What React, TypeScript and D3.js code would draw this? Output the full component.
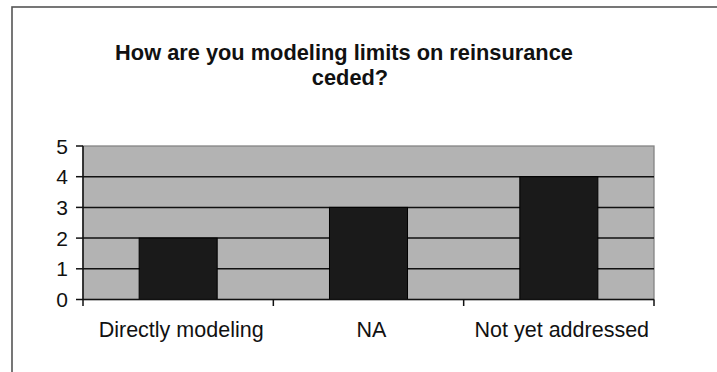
import React from "react";
import * as d3 from "d3";

const categories = ["Directly modeling", "NA", "Not yet addressed"];
const counts = [2, 3, 4];
const yTicks = [0, 1, 2, 3, 4, 5];
const titleLines = ["How are you modeling limits on reinsurance", "ceded?"];

const W = 717;
const H = 372;
const plot = { left: 83, right: 654, top: 146, bottom: 299.5 };
const font = "Arial, 'Liberation Sans', Helvetica, sans-serif";

export default function App() {
  const x = d3
    .scaleBand<string>()
    .domain(categories)
    .range([plot.left, plot.right])
    .paddingInner(0)
    .paddingOuter(0);
  const y = d3.scaleLinear().domain([0, 5]).range([plot.bottom, plot.top]);
  const bw = x.bandwidth();
  const barW = bw * 0.41;

  const boundaries = [...categories.map((c) => x(c) as number), plot.right];

  return (
    <svg
      width={W}
      height={H}
      style={{ position: "absolute", left: 0, top: 0, background: "#fff" }}
    >
      {/* chart frame */}
      <rect x={12} y={7} width={720} height={400} fill="#fff" stroke="#555" strokeWidth={1.6} />

      {/* title */}
      <text x={344} y={60} textAnchor="middle" fontFamily={font} fontWeight="bold" fontSize={21.8} fill="#111">
        {titleLines[0]}
      </text>
      <text x={350} y={85} textAnchor="middle" fontFamily={font} fontWeight="bold" fontSize={21.8} fill="#111">
        {titleLines[1]}
      </text>

      {/* plot area */}
      <rect
        x={plot.left}
        y={plot.top}
        width={plot.right - plot.left}
        height={plot.bottom - plot.top}
        fill="#b3b3b3"
        stroke="#858585"
        strokeWidth={1.3}
      />

      {/* gridlines */}
      {yTicks
        .filter((t) => t > 0 && t < 5)
        .map((t) => (
          <line key={t} x1={plot.left} x2={plot.right} y1={y(t)} y2={y(t)} stroke="#111" strokeWidth={1.5} />
        ))}

      {/* bars */}
      {categories.map((c, i) => (
        <rect
          key={c}
          x={(x(c) as number) + (bw - barW) / 2}
          y={y(counts[i])}
          width={barW}
          height={y(0) - y(counts[i])}
          fill="#1a1a1a"
          stroke="#000"
          strokeWidth={1}
        />
      ))}

      {/* axes */}
      <line x1={plot.left} x2={plot.left} y1={plot.top} y2={plot.bottom} stroke="#111" strokeWidth={1.5} />
      <line x1={plot.left} x2={plot.right} y1={plot.bottom} y2={plot.bottom} stroke="#111" strokeWidth={1.5} />

      {yTicks.map((t) => (
        <g key={t}>
          <line x1={76} x2={plot.left} y1={y(t)} y2={y(t)} stroke="#111" strokeWidth={1.5} />
          <text
            x={68}
            y={y(t)}
            textAnchor="end"
            dominantBaseline="central"
            fontFamily={font}
            fontSize={21}
            fill="#111"
          >
            {t}
          </text>
        </g>
      ))}

      {boundaries.map((bx, i) => (
        <line key={i} x1={bx} x2={bx} y1={plot.bottom} y2={306} stroke="#111" strokeWidth={1.5} />
      ))}

      {categories.map((c) => (
        <text
          key={c}
          x={(x(c) as number) + bw / 2 + 3}
          y={337}
          textAnchor="middle"
          fontFamily={font}
          fontSize={21.5}
          fill="#111"
        >
          {c}
        </text>
      ))}
    </svg>
  );
}
